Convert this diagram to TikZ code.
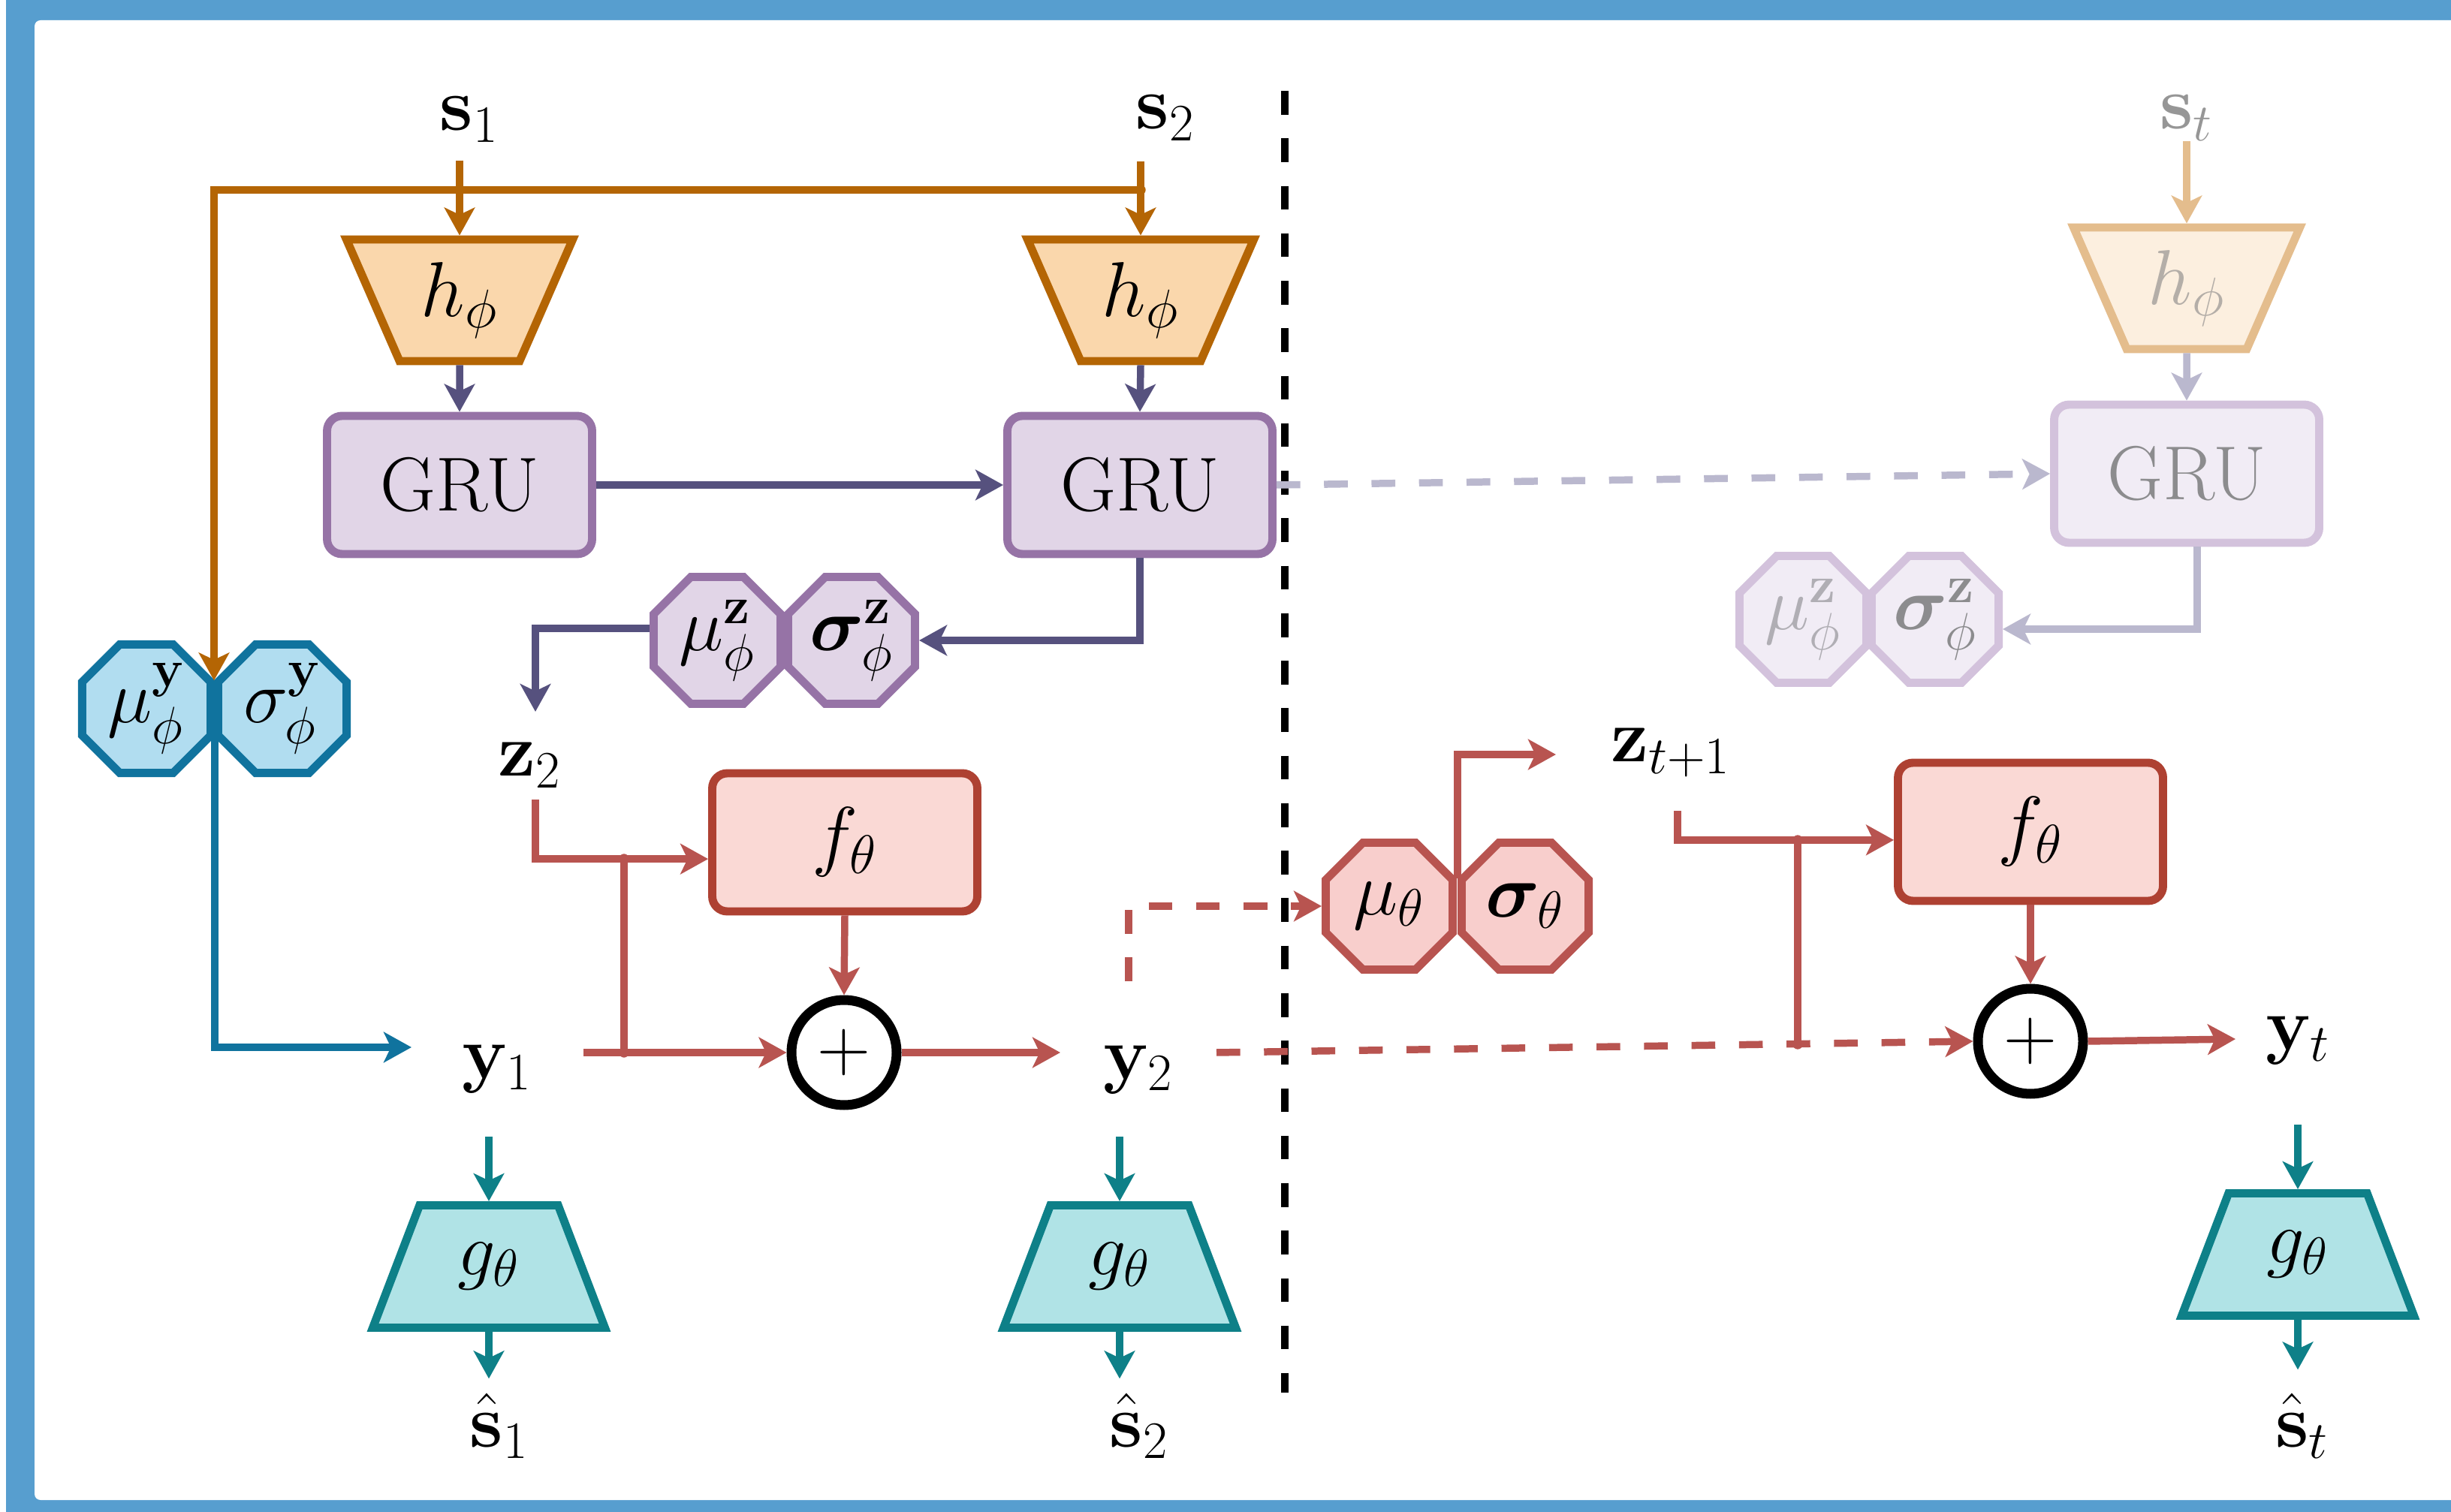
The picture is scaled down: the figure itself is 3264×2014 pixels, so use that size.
\RequirePackage{fix-cm}
\documentclass[tikz,border=0pt]{standalone}
\usepackage{amsmath}
\usepackage{bm}
\usetikzlibrary{arrows.meta,shapes.geometric,calc}
\definecolor{frameblue}{HTML}{579ECF}
\definecolor{orD}{HTML}{B46504}
\definecolor{orF}{HTML}{FAD7AC}
\definecolor{puD}{HTML}{9673A6}
\definecolor{puF}{HTML}{E1D5E7}
\definecolor{navy}{HTML}{56517E}
\definecolor{blD}{HTML}{10739E}
\definecolor{blF}{HTML}{B1DDF0}
\definecolor{reD}{HTML}{AE4132}
\definecolor{reF}{HTML}{FAD9D5}
\definecolor{rlD}{HTML}{B85450}
\definecolor{rlF}{HTML}{F8CECC}
\definecolor{teD}{HTML}{0E8088}
\definecolor{teF}{HTML}{B0E3E6}
\definecolor{faOrD}{HTML}{E4BD8D}
\definecolor{faOrF}{HTML}{FCEFDF}
\definecolor{faPuD}{HTML}{D3C2DC}
\definecolor{faPuF}{HTML}{F1ECF5}
\definecolor{faNavy}{HTML}{BAB8CE}
\definecolor{faTxtA}{HTML}{969696}
\definecolor{faTxtB}{HTML}{B4AEA8}
\definecolor{faTxtC}{HTML}{8C8C8E}
\definecolor{faTxtD}{HTML}{B0AEB4}
\begin{document}
\begin{tikzpicture}[x=0.1mm,y=-0.1mm,
  font=\fontsize{28.5}{34}\selectfont,
  >={Stealth[length=10.5pt,width=11.5pt,inset=2.7pt]},
  line join=miter,
  lbl/.style={inner sep=0pt, anchor=base},
  conn/.style={line width=2.7pt},
  dashpat/.style={dash pattern=on 9pt off 9pt},
  boxline/.style={line width=3.1pt},
  htrap/.style={boxline, trapezium, trapezium left angle=114, trapezium right angle=114,
    trapezium stretches=true, minimum width=30.2mm, minimum height=16.2mm, inner sep=0pt,
    draw=orD, fill=orF, font=\fontsize{29.5}{35}\selectfont},
  gtrap/.style={boxline, trapezium, trapezium left angle=66, trapezium right angle=66,
    trapezium stretches=true, minimum width=30.9mm, minimum height=16.3mm, inner sep=0pt,
    draw=teD, fill=teF},
  grubox/.style={boxline, rectangle, rounded corners=2mm, minimum width=35.3mm,
    minimum height=18.4mm, draw=puD, fill=puF, font=\fontsize{29}{34}\selectfont},
  fbox/.style={boxline, rectangle, rounded corners=2mm, minimum width=35.3mm,
    minimum height=18.4mm, draw=reD, fill=reF, font=\fontsize{29.5}{35}\selectfont},
  oct/.style={boxline, regular polygon, regular polygon sides=8, minimum size=18.3mm, inner sep=0pt},
  plusnode/.style={circle, line width=3.7pt, draw=black, fill=white, minimum size=14mm,
    inner sep=0pt, font=\fontsize{28}{32}\selectfont}
]
% frame
\useasboundingbox (0,0) rectangle (3264,2014);
\clip (0,0) rectangle (3264,2014);
\fill[white] (0,0) rectangle (3264,2014);
\fill[frameblue] (8,0) rectangle (3264,2014);
\fill[white, rounded corners=0.8mm] (46,27) rectangle (3400,1998);

% labels
\node[lbl] (s1) at (625,174) {$\mathbf{s}_1$};
\node[lbl] (s2) at (1552,172) {$\mathbf{s}_2$};
\node[lbl, text=faTxtA] (st) at (2912,172) {$\mathbf{s}_t$};
\node[lbl] (z2) at (705,1034) {$\mathbf{z}_2$};
\node[lbl] (y1) at (662,1436) {$\mathbf{y}_1$};
\node[lbl] (y2) at (1516,1437) {$\mathbf{y}_2$};
\node[lbl] (zt) at (2225,1015) {$\mathbf{z}_{t+1}$};
\node[lbl] (yt) at (3060,1398) {$\mathbf{y}_t$};
\node[lbl] (sh1) at (665,1927) {$\hat{\mathbf{s}}_1$};
\node[lbl] (sh2) at (1517,1927) {$\hat{\mathbf{s}}_2$};
\node[lbl] (sht) at (3066,1927) {$\hat{\mathbf{s}}_t$};

% encoders
\node[htrap] (h1) at (612,400) {$h_\phi$};
\node[htrap] (h2) at (1519,400) {$h_\phi$};
\node[htrap, draw=faOrD, fill=faOrF, text=faTxtB] (h3) at (2912,384) {$h_\phi$};

% GRUs
\node[grubox] (gru1) at (612,646) {GRU};
\node[grubox] (gru2) at (1518,646) {GRU};
\node[grubox, draw=faPuD, fill=faPuF, text=faTxtC] (gru3) at (2912,631) {GRU};

% octagons
\node[oct, draw=puD, fill=puF] (muz) at (955,853) {$\mu^{\mathbf{z}}_{\phi}$};
\node[oct, draw=puD, fill=puF] (sigz) at (1134,853) {$\bm{\sigma}^{\mathbf{z}}_{\phi}$};
\node[oct, draw=faPuD, fill=faPuF, text=faTxtD] (muz3) at (2401,825) {$\mu^{\mathbf{z}}_{\phi}$};
\node[oct, draw=faPuD, fill=faPuF, text=faTxtC] (sigz3) at (2577,825) {$\bm{\sigma}^{\mathbf{z}}_{\phi}$};
\node[oct, draw=blD, fill=blF] (muy) at (195,944) {$\mu^{\mathbf{y}}_{\phi}$};
\node[oct, draw=blD, fill=blF] (sigy) at (376,944) {$\sigma^{\mathbf{y}}_{\phi}$};
\node[oct, draw=rlD, fill=rlF] (mut) at (1850,1207) {$\mu_\theta$};
\node[oct, draw=rlD, fill=rlF] (sigt) at (2031,1207) {$\bm{\sigma}_\theta$};

% transitions
\node[fbox] (f1) at (1125,1122) {$f_\theta$};
\node[fbox] (f2) at (2704,1108) {$f_\theta$};
\node[plusnode] (plus1) at (1124,1402) {$+$};
\node[plusnode] (plus2) at (2704,1387) {$+$};

% decoders
\node[gtrap] (g1) at (651,1687) {$g_\theta$};
\node[gtrap] (g2) at (1491,1687) {$g_\theta$};
\node[gtrap] (g3) at (3060,1671) {$g_\theta$};

% separator
\coordinate (dtop) at (1711,121);
\coordinate (dbot) at (1711,1855);
\draw[line width=2.9pt, black, dashpat] (dtop) -- (dbot);

% orange inputs
\draw[conn, orD, ->, shorten <=6.8pt] (h1.north |- s1.south) -- (h1.north);
\draw[conn, orD, ->, shorten <=7.7pt] (h2.north |- s2.south) -- (h2.north);
\draw[conn, faOrD, ->] (h3.north |- st.south) -- (h3.north);
\coordinate (busL) at (285,253);
\coordinate (yjtop) at ($(muy.22.5)!0.5!(sigy.157.5)$);
\draw[conn, orD, ->] (h2.north |- busL) -- (busL) -- (busL |- yjtop);
\fill[orD] (h1.north |- busL) circle (1.9pt);
\fill[orD] (h2.north |- busL) circle (1.9pt);

% navy
\draw[conn, navy, ->] (h1.south) -- (gru1.north);
\draw[conn, navy, ->] (h2.south) -- (gru2.north);
\draw[conn, faNavy, ->] (h3.south) -- (gru3.north);
\draw[conn, navy, ->] (gru1.east) -- (gru2.west);
\draw[conn, navy, ->] (gru2.south) |- (sigz.east);
\coordinate (z2in) at (713,948);
\draw[conn, navy, ->] ([yshift=4.5pt]muz.west) -| (z2in);
\draw[conn, faNavy, ->, dashpat] (gru2.east) -- (gru3.west);
\draw[conn, faNavy, ->] ([xshift=4pt]gru3.south) |- ([yshift=-3.7pt]sigz3.east);

% blue
\coordinate (yjbot) at ($(muy.-22.5)!0.5!(sigy.-157.5)$);
\coordinate (y1in) at (548,1395);
\draw[conn, blD, ->] (yjbot) |- (y1in);

% red, step 2
\coordinate (z2out) at (713,1065);
\draw[conn, rlD, ->] (z2out) |- ([yshift=-6.3pt]f1.west);
\coordinate (j1) at (831,1144);
\coordinate (j2) at (831,1402);
\draw[conn, rlD] (j1) -- (j2);
\coordinate (y1out) at (777,1402);
\draw[conn, rlD, ->] (y1out) -- (plus1.west);
\draw[conn, rlD, ->] (f1.south) -- (plus1.north);
\coordinate (y2in) at (1412,1402);
\draw[conn, rlD, ->] (plus1.east) -- (y2in);
\fill[rlD] (j1) circle (1.9pt);
\fill[rlD] (j2) circle (1.9pt);

% red, step t
\coordinate (y2up) at (1503,1307);
\draw[conn, rlD, ->, dashpat] (y2up) |- (mut.west);
\coordinate (y2r) at (1620,1402);
\draw[conn, rlD, ->, dashpat] (y2r) -- (plus2.west);
\coordinate (thj) at ($(mut.22.5)!0.5!(sigt.157.5)$);
\coordinate (ztin) at (2072,1005);
\draw[conn, rlD, ->] (thj) |- (ztin);
\coordinate (ztout) at (2234,1080);
\draw[conn, rlD, ->] (ztout) |- ([yshift=-3.1pt]f2.west);
\coordinate (j3) at (2394,1119);
\coordinate (j4) at (2394,1391);
\draw[conn, rlD] (j3) -- (j4);
\fill[rlD] (j3) circle (1.9pt);
\fill[rlD] (j4) circle (1.9pt);
\draw[conn, rlD, ->] (f2.south) -- (plus2.north);
\coordinate (ytin) at (2977,1384);
\draw[conn, rlD, ->] (plus2.east) -- (ytin);

% teal decoders
\draw[conn, teD, ->, shorten <=16.5pt] (g1.north |- y1.south) -- (g1.north);
\draw[conn, teD, ->, shorten <=16.2pt] (g2.north |- y2.south) -- (g2.north);
\draw[conn, teD, ->, shorten <=22.8pt] (g3.north |- yt.south) -- (g3.north);
\draw[conn, teD, ->, shorten >=5.4pt] (g1.south) -- (g1.south |- sh1.north);
\draw[conn, teD, ->, shorten >=5.4pt] (g2.south) -- (g2.south |- sh2.north);
\draw[conn, teD, ->, shorten >=8.8pt] (g3.south) -- (g3.south |- sht.north);
\end{tikzpicture}
\end{document}
